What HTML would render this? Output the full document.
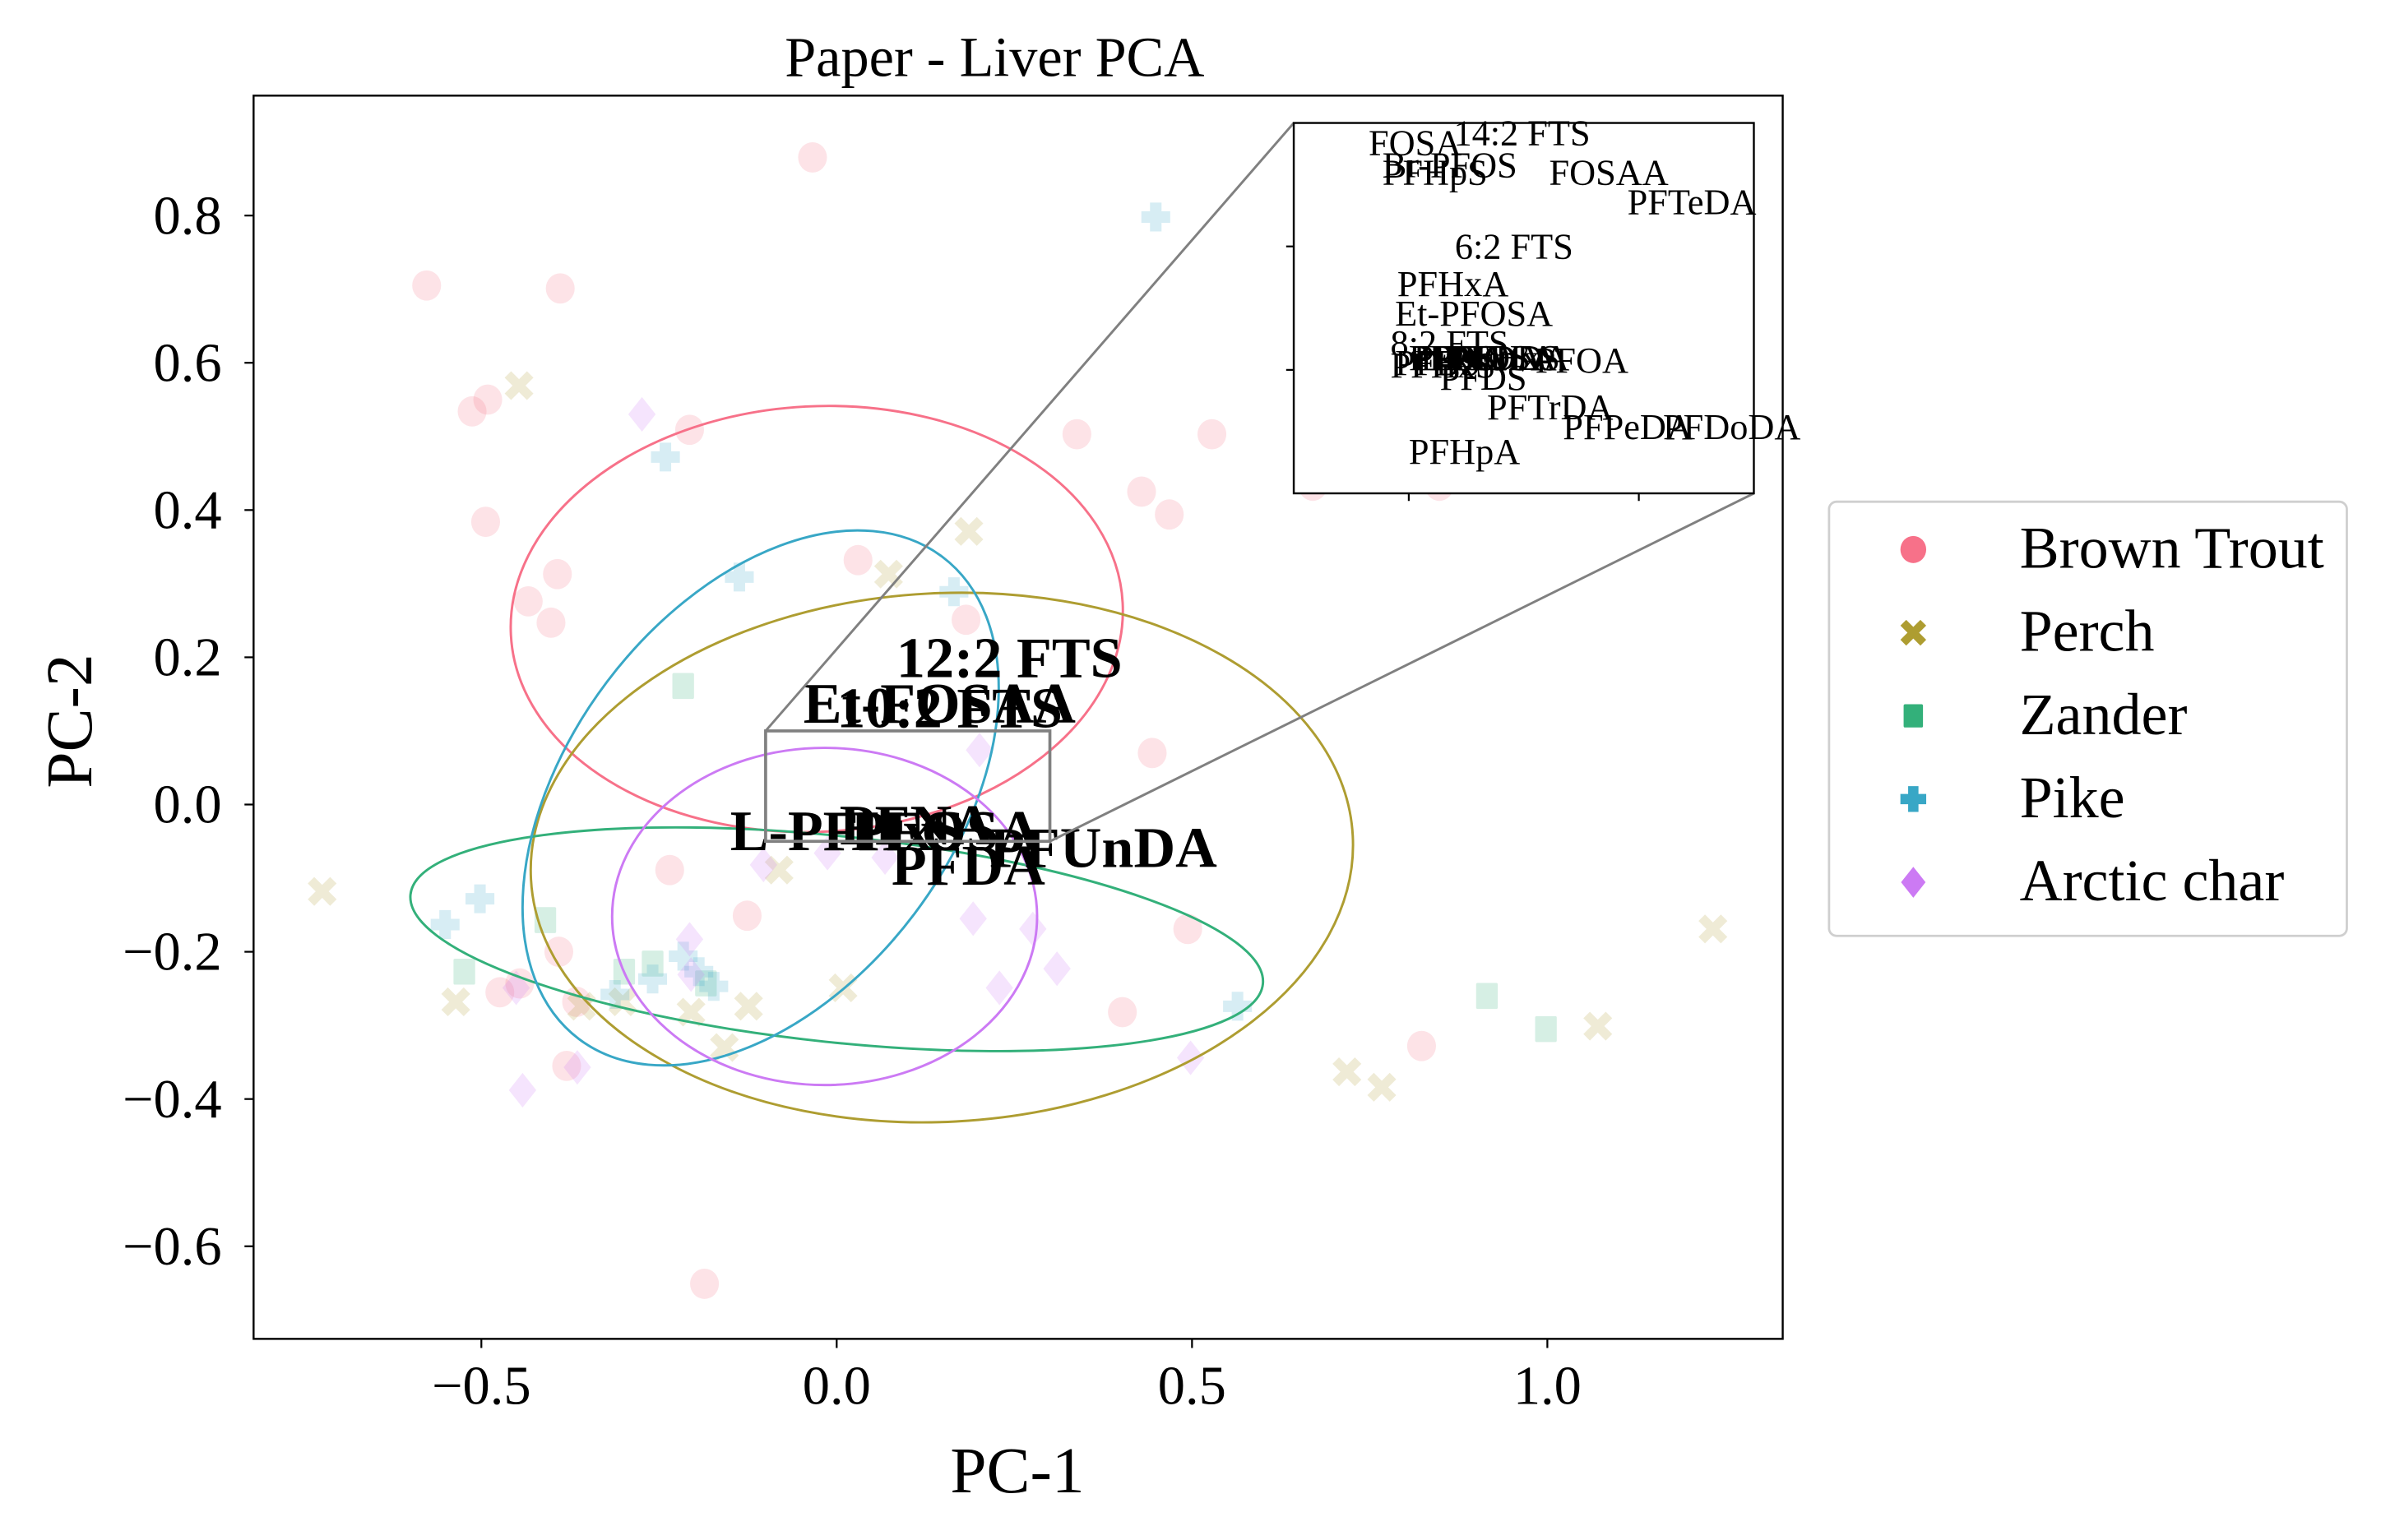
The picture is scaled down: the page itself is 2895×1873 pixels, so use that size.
<!DOCTYPE html>
<html><head><meta charset="utf-8"><style>
html,body{margin:0;padding:0;background:#fff}
svg{display:block}
text{font-family:"Liberation Serif",serif}
</style></head><body>
<svg id="chart" width="2895" height="1873" viewBox="0 0 1568 1014.5" preserveAspectRatio="none" xmlns="http://www.w3.org/2000/svg">
<rect width="1568" height="1014.5" fill="#fff"/>
<g id="pts"></g>
<g id="ells"></g>
<g id="axes"></g>
</svg>
<script>
const xTicks=[-0.5,0.0,0.5,1.0];
const xTickLabels=["\u22120.5","0.0","0.5","1.0"];
const yTicks=[0.8,0.6,0.4,0.2,0.0,-0.2,-0.4,-0.6];
const yTickLabels=["0.8","0.6","0.4","0.2","0.0","\u22120.2","\u22120.4","\u22120.6"];
const species=["Brown Trout","Perch","Zander","Pike","Arctic char"];
const colors=["#f77189","#ae9d31","#33b07a","#38a7c6","#cc7af4"];
const troutX=[-0.034,-0.577,-0.389,-0.513,-0.491,-0.207,-0.494,0.338,0.528,0.429,0.468,-0.393,-0.434,-0.402,0.030,0.182,0.444,-0.235,-0.126,0.494,0.402,-0.391,-0.474,-0.446,-0.380,0.823,-0.186,0.670,0.848,-0.366];
const troutY=[0.879,0.705,0.701,0.534,0.550,0.509,0.384,0.503,0.503,0.425,0.394,0.313,0.276,0.247,0.332,0.251,0.070,-0.089,-0.151,-0.169,-0.282,-0.200,-0.255,-0.243,-0.355,-0.328,-0.651,0.433,0.433,-0.268];
const perchX=[-0.447,0.186,0.073,-0.724,-0.081,1.233,-0.124,1.071,0.718,0.767,-0.359,-0.205,-0.158,0.009,-0.301,-0.536];
const perchY=[0.569,0.371,0.313,-0.118,-0.089,-0.169,-0.274,-0.301,-0.363,-0.384,-0.274,-0.282,-0.330,-0.249,-0.268,-0.268];
const zanderX=[-0.216,-0.410,-0.524,-0.259,0.915,0.998,-0.299,-0.184];
const zanderY=[0.161,-0.157,-0.227,-0.216,-0.260,-0.305,-0.227,-0.243];
const pikeX=[-0.241,-0.137,0.449,0.165,-0.502,-0.551,-0.194,-0.173,0.564,-0.259,-0.312,-0.216];
const pikeY=[0.472,0.309,0.798,0.289,-0.128,-0.163,-0.227,-0.247,-0.274,-0.237,-0.258,-0.206];
const charX=[-0.274,0.201,-0.103,-0.013,0.068,0.192,0.276,0.310,0.229,-0.207,-0.442,-0.365,0.498,-0.451,-0.205];
const charY=[0.530,0.074,-0.082,-0.066,-0.072,-0.155,-0.169,-0.223,-0.249,-0.183,-0.388,-0.357,-0.344,-0.249,-0.231];
const ellCX=[-0.028,0.148,0.0,-0.107,-0.017];
const ellCY=[0.252,-0.072,-0.183,0.009,-0.152];
const ellRX=[0.431,0.579,0.603,0.271,0.299];
const ellRY=[0.289,0.359,0.140,0.410,0.229];
const ellRot=[-3,-3,6,37,0];
const insetLabels=["FOSA","14:2 FTS","Br-PFOS","PFHpS","FOSAA","PFTeDA","6:2 FTS","PFHxA","Et-PFOSA","8:2 FTS","PFHxS","PFBS","PFOS","PFNA","L-PFHxS","PFUnDA","PFOSA","PFDA","PFOA","PFDS","PFTrDA","PFPeDA","PFDoDA","PFHpA"];
const insetLX=[-0.035,0.039,-0.023,-0.023,0.122,0.190,0.040,-0.010,-0.012,-0.016,-0.016,-0.012,0.0,0.004,0.01,0.02,0.03,0.035,0.11,0.027,0.068,0.134,0.221,0.0];
const insetLY=[0.087,0.091,0.078,0.075,0.075,0.063,0.045,0.030,0.018,0.006,-0.003,-0.002,0.0,0.0,0.0,0.0,0.0,0.0,-0.001,-0.008,-0.020,-0.028,-0.028,-0.038];
const mainLabels=["12:2 FTS","Et-FOSAA","10:2 FTS","L-PFHxS","PFNA","PFOSA","PFUnDA","PFDA"];
const mainLX=[0.084,-0.047,0.0,-0.150,0.004,0.020,0.215,0.077];
const mainLY=[0.173,0.111,0.105,-0.062,-0.054,-0.062,-0.085,-0.109];

const NS="http://www.w3.org/2000/svg";
const L=167,R=1174,T=63,B=882;
const X=v=>551+v*468, Y=v=>530-v*485;
const IL=852,IR=1155,IT=81,IB=325;
const IX=v=>IL+(v+0.1)/0.4*(IR-IL), IY=v=>IT+(0.1-v)/0.15*(IB-IT);
function mk(tag,attrs,parent){const e=document.createElementNS(NS,tag);for(const k in attrs)e.setAttribute(k,attrs[k]);parent.appendChild(e);return e;}
const pts=document.getElementById('pts'),ells=document.getElementById('ells'),ax=document.getElementById('axes');

function marker(kind,cx,cy,s,col,op,parent){
  let e;
  if(kind===0){e=mk('ellipse',{cx:cx,cy:cy,rx:s,ry:s*1.05},parent);}
  else if(kind===1){const a=s*0.45,b=s;e=mk('path',{d:`M${cx-b},${cy-b+a}L${cx-a},${cy}L${cx-b},${cy+b-a}L${cx-b+a},${cy+b}L${cx},${cy+a}L${cx+b-a},${cy+b}L${cx+b},${cy+b-a}L${cx+a},${cy}L${cx+b},${cy-b+a}L${cx+b-a},${cy-b}L${cx},${cy-a}L${cx-b+a},${cy-b}Z`},parent);}
  else if(kind===2){e=mk('rect',{x:cx-s*0.75,y:cy-s*0.9,width:s*1.5,height:s*1.8,rx:1},parent);}
  else if(kind===3){const a=s*0.4;e=mk('path',{d:`M${cx-a},${cy-s}H${cx+a}V${cy-a}H${cx+s}V${cy+a}H${cx+a}V${cy+s}H${cx-a}V${cy+a}H${cx-s}V${cy-a}H${cx-a}Z`},parent);}
  else {e=mk('path',{d:`M${cx},${cy-s*1.2}L${cx+s*0.95},${cy}L${cx},${cy+s*1.2}L${cx-s*0.95},${cy}Z`},parent);}
  e.setAttribute('fill',col);e.setAttribute('fill-opacity',op);
  return e;
}
const series=[[troutX,troutY],[perchX,perchY],[zanderX,zanderY],[pikeX,pikeY],[charX,charY]];
const snames=["brown-trout","perch","zander","pike","arctic-char"];
series.forEach((s,k)=>{
  s[0].forEach((xv,i)=>{
    const e=marker(k,X(xv),Y(s[1][i]),9.5,colors[k],0.2,pts);
    
    
  });
});
ellCX.forEach((c,i)=>{
  const cx=X(c),cy=Y(ellCY[i]);
  const e=mk('ellipse',{cx:cx,cy:cy,rx:ellRX[i]*468,ry:ellRY[i]*485,transform:`rotate(${ellRot[i]} ${cx} ${cy})`,fill:'none',stroke:colors[i],'stroke-width':1.6},ells);
  
  
});
let f=mk('rect',{x:L,y:T,width:R-L,height:B-T,fill:'none',stroke:'#000','stroke-width':1.3},ax);

xTicks.forEach((v,i)=>{
  mk('line',{x1:X(v),x2:X(v),y1:B,y2:B+6,stroke:'#000','stroke-width':1.2},ax);
  const t=mk('text',{x:X(v),y:B+43,'font-size':36,'text-anchor':'middle'},ax);t.textContent=xTickLabels[i];
  
});
yTicks.forEach((v,i)=>{
  mk('line',{x1:L-6,x2:L,y1:Y(v),y2:Y(v),stroke:'#000','stroke-width':1.2},ax);
  const t=mk('text',{x:L-21,y:Y(v)+12,'font-size':36,'text-anchor':'end'},ax);t.textContent=yTickLabels[i];
  
});
let t=mk('text',{x:655,y:50,'font-size':37,'text-anchor':'middle'},ax);t.textContent="Paper - Liver PCA";

t=mk('text',{x:670,y:983,'font-size':43,'text-anchor':'middle'},ax);t.textContent="PC-1";

t=mk('text',{x:0,y:0,'font-size':43,'text-anchor':'middle',transform:'translate(60 475) rotate(-90)'},ax);t.textContent="PC-2";

mainLabels.forEach((s,i)=>{
  const e=mk('text',{x:X(mainLX[i]),y:Y(mainLY[i]),'font-size':38,'font-weight':'bold'},ax);e.textContent=s;
  
});
const zx1=X(-0.1),zx2=X(0.3),zy1=Y(0.1),zy2=Y(-0.05);
let z=mk('rect',{x:zx1,y:zy1,width:zx2-zx1,height:zy2-zy1,fill:'none',stroke:'#808080','stroke-width':2},ax);

mk('line',{x1:zx1,y1:zy1,x2:IL,y2:IT,stroke:'#808080','stroke-width':1.6},ax);
mk('line',{x1:zx2,y1:zy2,x2:IR,y2:IB,stroke:'#808080','stroke-width':1.6},ax);
let ins=mk('g',{},ax);
mk('rect',{x:IL,y:IT,width:IR-IL,height:IB-IT,fill:'#fff',stroke:'#000','stroke-width':1.3},ins);
[0,0.2].forEach(v=>mk('line',{x1:IX(v),x2:IX(v),y1:IB,y2:IB+5,stroke:'#000','stroke-width':1.2},ins));
[0.05,0].forEach(v=>mk('line',{x1:IL-5,x2:IL,y1:IY(v),y2:IY(v),stroke:'#000','stroke-width':1.2},ins));
insetLabels.forEach((s,i)=>{
  const e=mk('text',{x:IX(insetLX[i]),y:IY(insetLY[i]),'font-size':24},ins);e.textContent=s;
  
});
let lg=mk('g',{},ax);
mk('rect',{x:1204.5,y:330.5,width:341,height:286,rx:5,fill:'#fff',stroke:'#cfcfcf','stroke-width':1.5},lg);
species.forEach((s,i)=>{
  const cy=362+i*54.8;
  const m=marker(i,1260,cy,8.5,colors[i],1,lg);
  
  const e=mk('text',{x:1330,y:cy+12,'font-size':39},lg);e.textContent=s;
  
});
</script>
</body></html>
